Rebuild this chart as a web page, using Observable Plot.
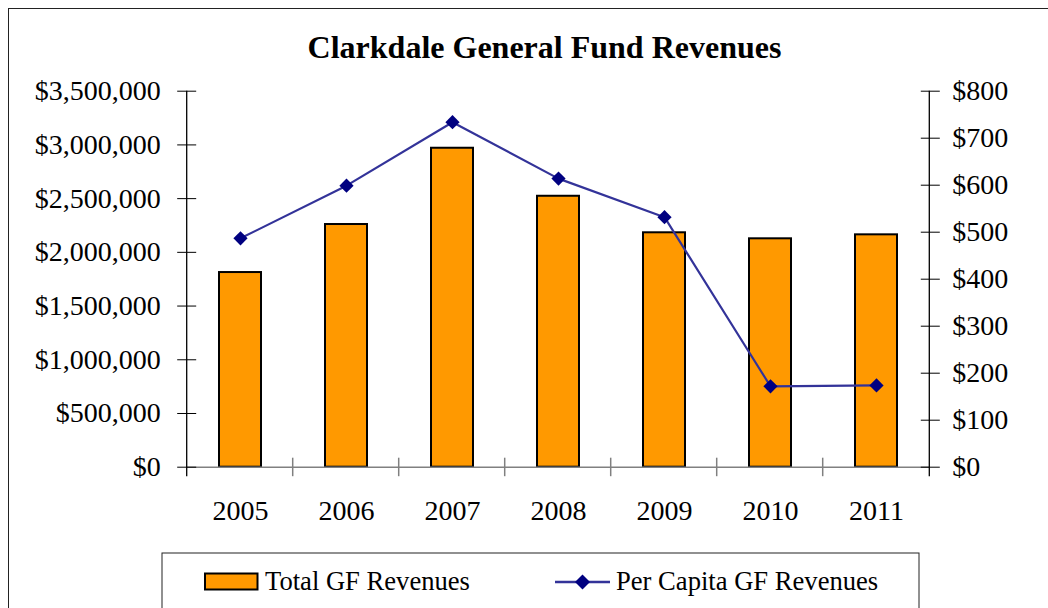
<!DOCTYPE html>
<html>
<head>
<meta charset="utf-8">
<script src="https://cdn.jsdelivr.net/npm/d3@7"></script>
<script src="https://cdn.jsdelivr.net/npm/@observablehq/plot@0.6"></script>
<style>
  html, body { margin: 0; padding: 0; background: #fff; overflow: hidden; }
  #wrap { position: relative; width: 1048px; height: 608px; overflow: hidden; font-family: "Liberation Serif", "Times New Roman", serif; }
  #frame { position: absolute; left: 8px; top: 8px; width: 1200px; height: 700px; border: 1px solid #222; box-sizing: border-box; }
  #chart { position: absolute; left: 0; top: 0; }
  #overlay { position: absolute; left: 0; top: 0; pointer-events: none; }
</style>
</head>
<body>
<div id="wrap">
  <div id="frame"></div>
  <div id="chart"></div>
  <svg id="overlay" width="1048" height="608" xmlns="http://www.w3.org/2000/svg">
    <text x="544.5" y="58" text-anchor="middle" font-family="Liberation Serif, Times New Roman, serif" font-weight="bold" font-size="32" fill="#000">Clarkdale General Fund Revenues</text>
    <rect x="162" y="553" width="757" height="80" fill="none" stroke="#222" stroke-width="1"/>
    <rect x="205" y="573.5" width="52.5" height="16" fill="#FF9900" stroke="#000" stroke-width="2"/>
    <text x="265" y="590" font-family="Liberation Serif, Times New Roman, serif" font-size="26.6" fill="#000">Total GF Revenues</text>
    <line x1="555" y1="582" x2="610" y2="582" stroke="#333399" stroke-width="2.5"/>
    <path d="M582.5,574.5 L590,582 L582.5,589.5 L575,582 Z" fill="#000080"/>
    <text x="616" y="590" font-family="Liberation Serif, Times New Roman, serif" font-size="26.6" fill="#000">Per Capita GF Revenues</text>
  </svg>
</div>
<script>
// ---- data ----
const years = ["2005", "2006", "2007", "2008", "2009", "2010", "2011"];
const totalRevenues = [1812000, 2259000, 2969000, 2522000, 2182000, 2126000, 2163000];
const perCapitaRevenues = [487, 599, 734, 614, 532, 172, 174];
const leftTicks = [0, 500000, 1000000, 1500000, 2000000, 2500000, 3000000, 3500000];
const rightTicks = [0, 100, 200, 300, 400, 500, 600, 700, 800];
const leftMax = 3500000;
const rightMax = 800;

const k = leftMax / rightMax; // map right axis values onto the shared y scale
const data = years.map((year, i) => ({year, total: totalRevenues[i], pc: perCapitaRevenues[i]}));
const fmtMoney = d3.format(",");

const plot = Plot.plot({
  width: 1048,
  height: 608,
  marginLeft: 186.7,
  marginRight: 118.7,
  marginTop: 90.7,
  marginBottom: 141.3,
  style: {fontFamily: "Liberation Serif, Times New Roman, serif", fontSize: "28px", color: "#000", background: "transparent", overflow: "visible"},
  x: {type: "band", domain: years, paddingInner: 0.6, paddingOuter: 0.3, label: null},
  y: {domain: [0, leftMax], label: null},
  marks: [
    Plot.barY(data, {x: "year", y: "total", fill: "#FF9900", stroke: "#000", strokeWidth: 2}),
    Plot.ruleY([0], {stroke: "#808080", strokeWidth: 1.5}),
    Plot.line(data, {x: "year", y: d => d.pc * k, stroke: "#333399", strokeWidth: 2.2}),
    Plot.dot(data, {x: "year", y: d => d.pc * k, symbol: "diamond2", r: 6.4, fill: "#000080", stroke: "none"}),
    Plot.axisY(leftTicks, {anchor: "left", tickSize: 19, dx: 9.5, tickPadding: 17, tickFormat: d => "$" + fmtMoney(d), label: null, stroke: "#000", fill: "#000"}),
    Plot.axisY(rightTicks.map(v => v * k), {anchor: "right", tickSize: 19, dx: -9.5, tickPadding: 13, tickFormat: d => "$" + Math.round(d / k), label: null, stroke: "#000", fill: "#000"}),
    Plot.axisX({tickSize: 0, tickPadding: 33, label: null, fill: "#000"})
  ]
});
document.getElementById("chart").appendChild(plot);

// axis lines and category separators, positioned from the plot's own scales
const xs = plot.scale("x");
const ys = plot.scale("y");
const x0 = Math.min(...xs.range), x1 = Math.max(...xs.range);
const yBottom = Math.max(...ys.range), yTop = Math.min(...ys.range);
const step = xs.step !== undefined ? xs.step : (x1 - x0) / years.length;
const g = d3.select(plot).append("g");
[x0, x1].forEach(x => {
  g.append("line").attr("x1", x).attr("x2", x).attr("y1", yTop).attr("y2", yBottom + 9.5)
    .attr("stroke", "#000").attr("stroke-width", 1.3);
});
for (let i = 1; i < years.length; i++) {
  const x = x0 + i * step;
  g.append("line").attr("x1", x).attr("x2", x).attr("y1", yBottom - 9).attr("y2", yBottom + 9.5)
    .attr("stroke", "#808080").attr("stroke-width", 1.5);
}
</script>
</body>
</html>
